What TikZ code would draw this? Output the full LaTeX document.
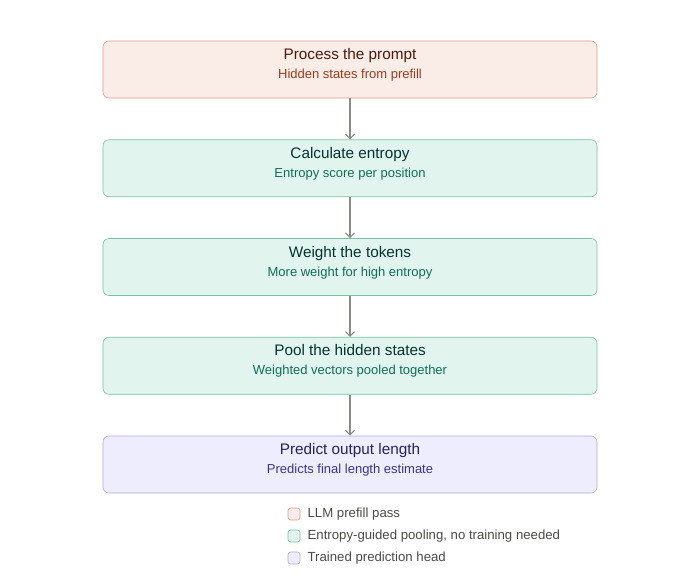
\documentclass[tikz,border=0pt]{standalone}
\usepackage{fontspec}
\setmainfont{Liberation Sans}
\usetikzlibrary{arrows.meta,positioning}

\definecolor{coralfill}{HTML}{FAECE7}
\definecolor{coralline}{HTML}{DE9A86}
\definecolor{coraltitle}{HTML}{4A1B0C}
\definecolor{coraltext}{HTML}{993C1D}
\definecolor{tealfill}{HTML}{E1F5EE}
\definecolor{tealline}{HTML}{79BFA8}
\definecolor{tealtitle}{HTML}{04342C}
\definecolor{tealtext}{HTML}{0F6E56}
\definecolor{purplefill}{HTML}{EEEDFE}
\definecolor{purpleline}{HTML}{AFA9EC}
\definecolor{purpletitle}{HTML}{26215C}
\definecolor{purpletext}{HTML}{3C3489}
\definecolor{arrowgray}{HTML}{8C8A84}
\definecolor{legendtext}{HTML}{4A4A48}

\newcommand{\boxtitle}[1]{{\fontsize{15.3}{17}\selectfont #1}}
\newcommand{\boxsub}[2]{{\color{#1}\fontsize{13}{15}\selectfont #2}\rule[-12pt]{0pt}{0pt}}

\begin{document}
\begin{tikzpicture}[x=1pt,y=-1pt,->,>={Straight Barb[length=4.5pt,width=9pt]},node distance=98.75pt,semithick,
    stage/.style={rectangle,rounded corners=6pt,minimum width=494pt,minimum height=57pt,align=center,line width=0.6pt,
        font=\fontsize{12}{19}\selectfont},
    prefill/.style={stage,draw=coralline,fill=coralfill,text=coraltitle},
    pooling/.style={stage,draw=tealline,fill=tealfill,text=tealtitle},
    head/.style={stage,draw=purpleline,fill=purplefill,text=purpletitle},
    key/.style={rectangle,rounded corners=2.5pt,minimum size=12pt,inner sep=0pt,line width=0.6pt},
    keytext/.style={anchor=west,text=legendtext,font=\fontsize{13.2}{15}\selectfont}]
            \useasboundingbox (0,0) rectangle (700,587);
            \node [prefill]  (0) at (350,69.5) {\boxtitle{Process the prompt}\\\boxsub{coraltext}{Hidden states from prefill}};
            \node [pooling]  (1) [below of=0] {\boxtitle{Calculate entropy}\\\boxsub{tealtext}{Entropy score per position}};
            \node [pooling]  (2) [below of=1] {\boxtitle{Weight the tokens}\\\boxsub{tealtext}{More weight for high entropy}};
            \node [pooling]  (3) [below of=2] {\boxtitle{Pool the hidden states}\\\boxsub{tealtext}{Weighted vectors pooled together}};
            \node [head]     (4) [below of=3] {\boxtitle{Predict output length}\\\boxsub{purpletext}{Predicts final length estimate}};

            \path [draw=arrowgray,line width=1.1pt] (0) edge (1)
            (1) edge (2)
            (2) edge (3)
            (3) edge (4);

            % legend
            \node [key,draw=coralline,fill=coralfill]   (k0) at (294,514) {};
            \node [key,draw=tealline,fill=tealfill]     (k1) at (294,536) {};
            \node [key,draw=purpleline,fill=purplefill] (k2) at (294,558) {};
            \node [keytext] (t0) at (304,514) {LLM prefill pass};
            \node [keytext] (t1) at (304,536) {Entropy-guided pooling, no training needed};
            \node [keytext] (t2) at (304,558) {Trained prediction head};
        \end{tikzpicture}
\end{document}
